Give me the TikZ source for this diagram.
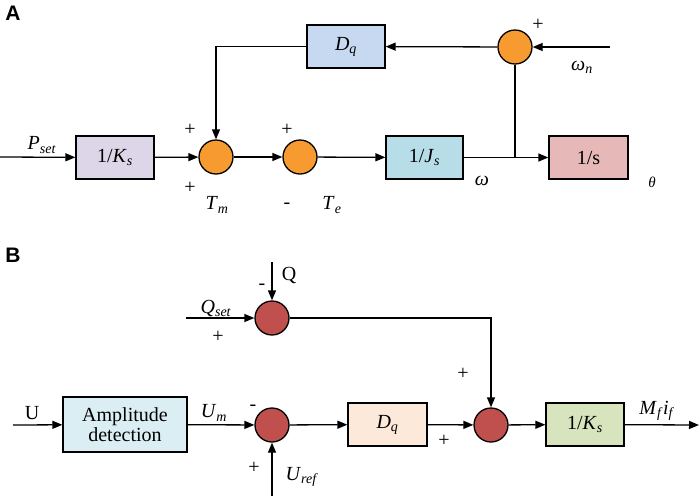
\documentclass[tikz,border=0pt]{standalone}
\usepackage{fontspec}
\setmainfont{Liberation Serif}
\newfontfamily\panelfont{Liberation Sans}
\usetikzlibrary{arrows.meta,calc}
\newcommand{\isub}[2]{\textit{#1}\textsubscript{\textit{#2}}}
\definecolor{cKsA}{HTML}{DDD6E8}
\definecolor{cJs}{HTML}{B7DEE8}
\definecolor{cOs}{HTML}{E6B9B8}
\definecolor{cDqA}{HTML}{C6D9F0}
\definecolor{cAmp}{HTML}{DBEEF4}
\definecolor{cDqB}{HTML}{FDE9D9}
\definecolor{cKsB}{HTML}{D7E4BD}
\definecolor{cOrange}{HTML}{F79B30}
\definecolor{cRed}{HTML}{C0504D}
\begin{document}
\begin{tikzpicture}[x=1pt,y=-1pt,
  line width=1.3pt,
  every node/.style={font=\fontsize{20}{23}\selectfont},
  blk/.style={draw, line width=1.3pt, minimum height=43pt, minimum width=78pt, inner sep=0pt, align=center},
  sumo/.style={circle, draw, line width=1.3pt, fill=cOrange, minimum size=34pt, inner sep=0pt},
  sumr/.style={circle, draw, line width=1.3pt, fill=cRed, minimum size=34pt, inner sep=0pt},
  arr/.style={-{Triangle[length=10pt,width=8pt]}},
  sgn/.style={font=\fontsize{20}{20}\selectfont, inner sep=0pt},
  lbl/.style={inner sep=0pt},
  panel/.style={font=\panelfont\bfseries\fontsize{21}{21}\selectfont, inner sep=0pt}
]
\useasboundingbox (0,0) rectangle (699,496);
% ---------- Panel A ----------
\node[panel] (pA) at (13,13) {A};
\coordinate (pin) at (0,157);
\node[blk, fill=cKsA] (ks1) at (115,157.5) {1/\isub{K}{s}};
\node[sumo] (s1) at (216,157) {};
\node[sumo] (s2) at (300,157) {};
\node[blk, fill=cJs, minimum width=77pt] (js) at (424.5,157.5) {1/\isub{J}{s}};
\node[blk, fill=cOs, minimum width=79pt] (os) at (588.5,157.5) {1/s};
\node[blk, fill=cDqA] (dq) at (346,46.5) {\isub{D}{q}};
\node[sumo] (s3) at (515,47) {};
\coordinate (win) at (610,47);
\coordinate (br) at (515,157);

\draw[arr] (pin) -- (ks1);
\draw[arr] (ks1) -- (s1);
\draw[arr] (s1) -- (s2);
\draw[arr] (s2) -- (js);
\draw[arr] (js) -- (os);
\draw[arr] (win) -- (s3);
\draw[arr] (s3) -- (dq);
\draw (s3) -- (br);
\draw[arr] (dq.west) -| (s1.north);

\node[lbl] (lpset) at (42,145) {\isub{P}{set}};
\node[sgn] (p1) at (190,130) {+};
\node[sgn] (p2) at (190,188) {+};
\node[lbl] (ltm) at (217,205) {\isub{T}{m}};
\node[sgn] (m1) at (287,206) {-};
\node[sgn] (p3) at (287,130) {+};
\node[lbl] (lte) at (332,205) {\isub{T}{e}};
\node[lbl] (lw) at (482,181) {\textit{ω}};
\node[lbl, font=\fontsize{15}{15}\selectfont] (lth) at (652,182) {\textit{θ}};
\node[sgn] (p4) at (538,25) {+};
\node[lbl] (lwn) at (582,67) {\isub{ω}{n}};

% ---------- Panel B ----------
\node[panel] (pB) at (13,255) {B};
\node[sumr] (s4) at (272,318) {};
\coordinate (qtop) at (272,262);
\coordinate (qset) at (186,318);
\draw[arr] (qtop) -- (s4);
\draw[arr] (qset) -- (s4);
\node[sgn] (m2) at (262,287) {-};
\node[lbl] (lq) at (289,275) {Q};
\node[lbl] (lqset) at (216,308) {\isub{Q}{set}};
\node[sgn] (p5) at (218,337) {+};

\coordinate (uin) at (13,425);
\node[blk, fill=cAmp, minimum width=124pt, minimum height=55pt] (amp) at (125,424.5) {Amplitude\\[-3pt]detection};
\node[sumr] (s5) at (272,425) {};
\coordinate (uref) at (272,496);
\node[blk, fill=cDqB, minimum width=79pt] (dq2) at (387.5,424.5) {\isub{D}{q}};
\node[sumr] (s6) at (491,425) {};
\node[blk, fill=cKsB] (ks2) at (585,424.5) {1/\isub{K}{s}};
\coordinate (out) at (699,425);

\draw[arr] (uin) -- (amp);
\draw[arr] (amp) -- (s5);
\draw[arr] (uref) -- (s5);
\draw[arr] (s5) -- (dq2);
\draw[arr] (dq2) -- (s6);
\draw[arr] (s6) -- (ks2);
\draw[arr] (ks2) -- (out);
\draw[arr] (s4.east) -| (s6.north);

\node[lbl] (lu) at (32,413) {U};
\node[lbl] (lum) at (214,413) {\isub{U}{m}};
\node[sgn] (m3) at (253,408) {-};
\node[sgn] (p6) at (254,468) {+};
\node[lbl] (luref) at (302,477) {\isub{U}{ref}};
\node[sgn] (p7) at (444,441) {+};
\node[sgn] (p8) at (463,374) {+};
\node[lbl] (lmf) at (657,411) {\isub{M}{f}\isub{i}{f}};
\end{tikzpicture}
\end{document}
